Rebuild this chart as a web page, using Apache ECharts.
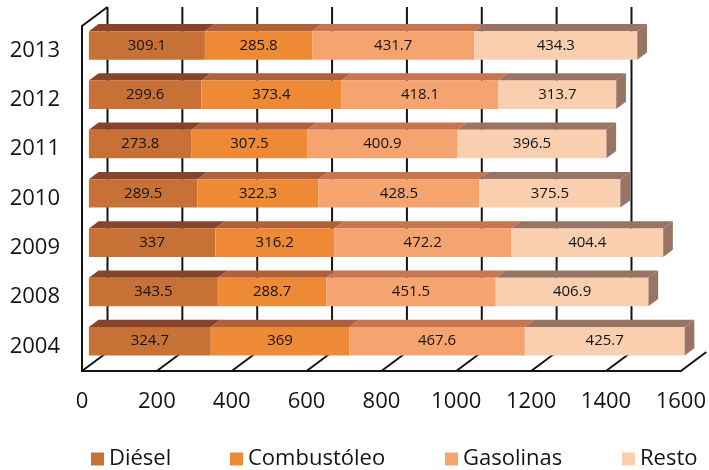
<!DOCTYPE html>
<html>
<head>
<meta charset="utf-8">
<script src="https://cdn.jsdelivr.net/npm/echarts@6/dist/echarts.min.js"></script>
<style>
  html, body { margin: 0; padding: 0; background: #fff; }
  #chart { width: 709px; height: 470px; }
</style>
</head>
<body>
<div id="chart"></div>
<script>
// Years shown bottom-to-top on the category axis
const years = ['2004', '2008', '2009', '2010', '2011', '2012', '2013'];
const diesel       = [324.7, 343.5, 337, 289.5, 273.8, 299.6, 309.1];
const combustoleo  = [369, 288.7, 316.2, 322.3, 307.5, 373.4, 285.8];
const gasolinas    = [467.6, 451.5, 472.2, 428.5, 400.9, 418.1, 431.7];
const resto        = [425.7, 406.9, 404.4, 375.5, 396.5, 313.7, 434.3];
const xTicks = [0, 200, 400, 600, 800, 1000, 1200, 1400, 1600];

const seriesDefs = [
  { name: 'Diésel',      values: diesel,      front: '#C87137', top: '#86452A' },
  { name: 'Combustóleo', values: combustoleo, front: '#EE8A35', top: '#B0603A' },
  { name: 'Gasolinas',   values: gasolinas,   front: '#F5A470', top: '#C87650' },
  { name: 'Resto',       values: resto,       front: '#F9CFB0', top: '#987465' }
];
const legendLeft = [86, 225, 440, 617];

const FONT = '"Open Sans", "Noto Sans", sans-serif';
const INK = '#141414';
// oblique projection of the box depth: back plane offset in px
const DEPTH_X = 25.5, DEPTH_Y = 19;
const BAR_D0 = 0.27, BAR_D1 = 0.65;   // bar front/back depth fractions
const BAR_HALF = 0.289;               // half bar height as fraction of band
const PERSPECTIVE = 1.003;            // bars sit slightly deeper, so spread a bit wider

// running totals so every segment starts where the previous one ends
const starts = seriesDefs.map(() => []);
years.forEach((_, i) => {
  let acc = 0;
  seriesDefs.forEach((s, k) => { starts[k][i] = acc; acc += s.values[i]; });
});

function barRenderer(def, isLast) {
  return function (params, api) {
    const cs = params.coordSys;
    const s = api.value(0), e = api.value(1), cat = api.value(2);
    const p0 = api.coord([s, cat]);
    const p1 = api.coord([e, cat]);
    const band = api.size([0, 1])[1];
    const fx = DEPTH_X * BAR_D0, fy = DEPTH_Y * BAR_D0;
    const ddx = DEPTH_X * (BAR_D1 - BAR_D0), ddy = DEPTH_Y * (BAR_D1 - BAR_D0);
    const x0 = cs.x + (p0[0] - cs.x) * PERSPECTIVE + fx;
    const x1 = cs.x + (p1[0] - cs.x) * PERSPECTIVE + fx;
    const yc = p0[1] - fy;
    const h = band * BAR_HALF;
    const yt = yc - h, yb = yc + h;
    const children = [
      { type: 'polygon', shape: { points: [[x0, yt], [x1, yt], [x1 + ddx, yt - ddy], [x0 + ddx, yt - ddy]] },
        style: { fill: def.top } },
      { type: 'rect', shape: { x: x0, y: yt, width: x1 - x0, height: yb - yt },
        style: { fill: def.front } }
    ];
    if (isLast) {
      children.push({ type: 'polygon',
        shape: { points: [[x1, yt], [x1 + ddx, yt - ddy], [x1 + ddx, yb - ddy], [x1, yb]] },
        style: { fill: def.top } });
    }
    children.push({ type: 'text',
      style: { text: String(api.value(3)), x: (x0 + x1) / 2, y: yc,
        textAlign: 'center', textVerticalAlign: 'middle',
        font: '15px ' + FONT, fill: INK } });
    return { type: 'group', children: children };
  };
}

const barSeries = seriesDefs.map((def, k) => ({
  name: def.name,
  type: 'custom',
  z: 3,
  itemStyle: { color: def.front },
  encode: { x: [0, 1], y: 2 },
  data: years.map((_, i) => [starts[k][i], starts[k][i] + def.values[i], i, def.values[i]]),
  renderItem: barRenderer(def, k === seriesDefs.length - 1)
}));

// back-wall grid lines and floor diagonals of the 3D box
const wallSeries = {
  type: 'custom',
  z: 1,
  silent: true,
  encode: { x: 0, y: 1 },
  data: xTicks.map(v => [v, 0]),
  renderItem: function (params, api) {
    const cs = params.coordSys;
    const v = api.value(0);
    const x = api.coord([v, 0])[0];
    const top = cs.y, bottom = cs.y + cs.height;
    const st = { stroke: INK, lineWidth: 2 };
    const children = [
      { type: 'line', shape: { x1: x, y1: bottom, x2: x + DEPTH_X, y2: bottom - DEPTH_Y }, style: st }
    ];
    if (v < xTicks[xTicks.length - 1]) {
      children.push({ type: 'line',
        shape: { x1: x + DEPTH_X, y1: top - DEPTH_Y, x2: x + DEPTH_X, y2: bottom - DEPTH_Y }, style: st });
    }
    if (v === 0) {
      children.push({ type: 'line',
        shape: { x1: x, y1: top, x2: x + DEPTH_X, y2: top - DEPTH_Y }, style: st });
    }
    return { type: 'group', children: children };
  }
};

const chart = echarts.init(document.getElementById('chart'), null, { renderer: 'canvas' });
chart.setOption({
  animation: false,
  backgroundColor: '#ffffff',
  textStyle: { fontFamily: FONT },
  grid: { left: 82, top: 26, width: 600, height: 345, containLabel: false },
  xAxis: {
    type: 'value', min: 0, max: 1600, interval: 200,
    axisLine: { show: true, lineStyle: { color: INK, width: 2 } },
    axisTick: { show: false },
    splitLine: { show: false },
    axisLabel: { color: INK, fontSize: 22, margin: 20, fontFamily: FONT,
      formatter: v => String(v) }
  },
  yAxis: {
    type: 'category', data: years,
    axisLine: { show: true, lineStyle: { color: INK, width: 2 } },
    axisTick: { show: false },
    splitLine: { show: false },
    axisLabel: { color: INK, fontSize: 22, margin: 22, fontFamily: FONT }
  },
  legend: seriesDefs.map((d, k) => ({
    left: legendLeft[k], top: 443,
    icon: 'rect', itemWidth: 13, itemHeight: 13, itemGap: 0,
    textStyle: { color: INK, fontSize: 22, fontFamily: FONT },
    data: [d.name]
  })),
  series: [wallSeries].concat(barSeries)
});
</script>
</body>
</html>
